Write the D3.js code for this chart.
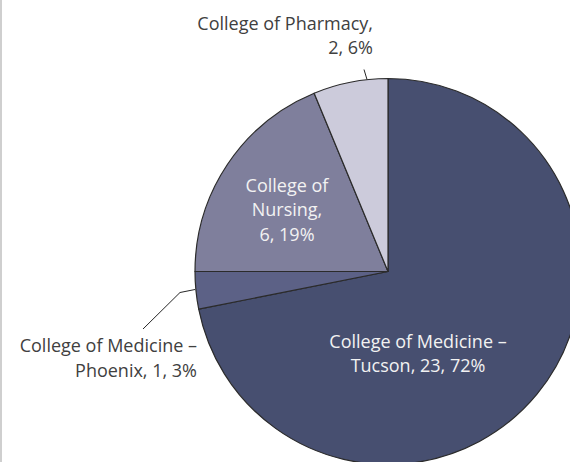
<!DOCTYPE html>
<meta charset="utf-8">
<style>
  body { margin: 0; background: #fff; }
  svg { display: block; }
</style>
<svg width="570" height="462"></svg>
<script src="https://cdn.jsdelivr.net/npm/d3@7"></script>
<script>

var colleges = ["College of Medicine \u2013 Tucson", "College of Medicine \u2013 Phoenix", "College of Nursing", "College of Pharmacy"];
var counts = [23, 1, 6, 2];
var percents = ["72%", "3%", "19%", "6%"];
var colors = ["#474f70", "#5c6186", "#7f7f9c", "#cccbdb"];

var svg = d3.select("svg");
var width = +svg.attr("width");
var height = +svg.attr("height");

var cx = 388, cy = 271.5, radius = 193;

var pie = d3.pie().sort(null).value(function(d) { return d.value; });
var arc = d3.arc().innerRadius(0).outerRadius(radius);

var data = colleges.map(function(c, i) {
  return { name: c, value: counts[i], pct: percents[i], color: colors[i] };
});
var arcs = pie(data);

// left frame edge
svg.append("line")
    .attr("x1", 1).attr("x2", 1).attr("y1", 0).attr("y2", height)
    .attr("stroke", "#bfbfbf").attr("stroke-width", 1.5);

var g = svg.append("g").attr("transform", "translate(" + cx + "," + cy + ")");

g.selectAll("path.slice")
  .data(arcs)
  .enter().append("path")
    .attr("class", "slice")
    .attr("d", arc)
    .attr("fill", function(d) { return d.data.color; })
    .attr("stroke", "#2b2b2b")
    .attr("stroke-width", 1.2)
    .attr("stroke-linejoin", "round");

// label layout (relative to pie centre)
var labels = [
  { lines: ["College of Medicine \u2013", "Tucson, " + counts[0] + ", " + percents[0]], x: 30, y: 76, anchor: "middle", fill: "#f2f2f2" },
  { lines: ["College of Medicine \u2013", "Phoenix, " + counts[1] + ", " + percents[1]], x: -191, y: 80.5, anchor: "end", fill: "#404040" },
  { lines: ["College of", "Nursing,", counts[2] + ", " + percents[2]], x: -101, y: -80, anchor: "middle", fill: "#f2f2f2" },
  { lines: ["College of Pharmacy,", counts[3] + ", " + percents[3]], x: -15, y: -242, anchor: "end", fill: "#404040" }
];

var lineH = 24.5;
labels.forEach(function(l) {
  var t = g.append("text")
      .attr("text-anchor", l.anchor)
      .attr("fill", l.fill)
      .style("font-family", "'Open Sans', 'Liberation Sans', sans-serif")
      .style("font-size", "18px");
  l.lines.forEach(function(s, i) {
    t.append("tspan")
      .attr("x", l.x)
      .attr("y", l.y + i * lineH)
      .text(s);
  });
});

// leader lines
var leaderPhoenix = [[-245, 57.5], [-208, 21], [-193, 18]];
var leaderPharmacy = [[-24, -202], [-21, -192]];
var lineGen = d3.line();
[leaderPhoenix, leaderPharmacy].forEach(function(pts) {
  g.append("path")
    .attr("d", lineGen(pts))
    .attr("fill", "none")
    .attr("stroke", "#262626")
    .attr("stroke-width", 1);
});

</script>
